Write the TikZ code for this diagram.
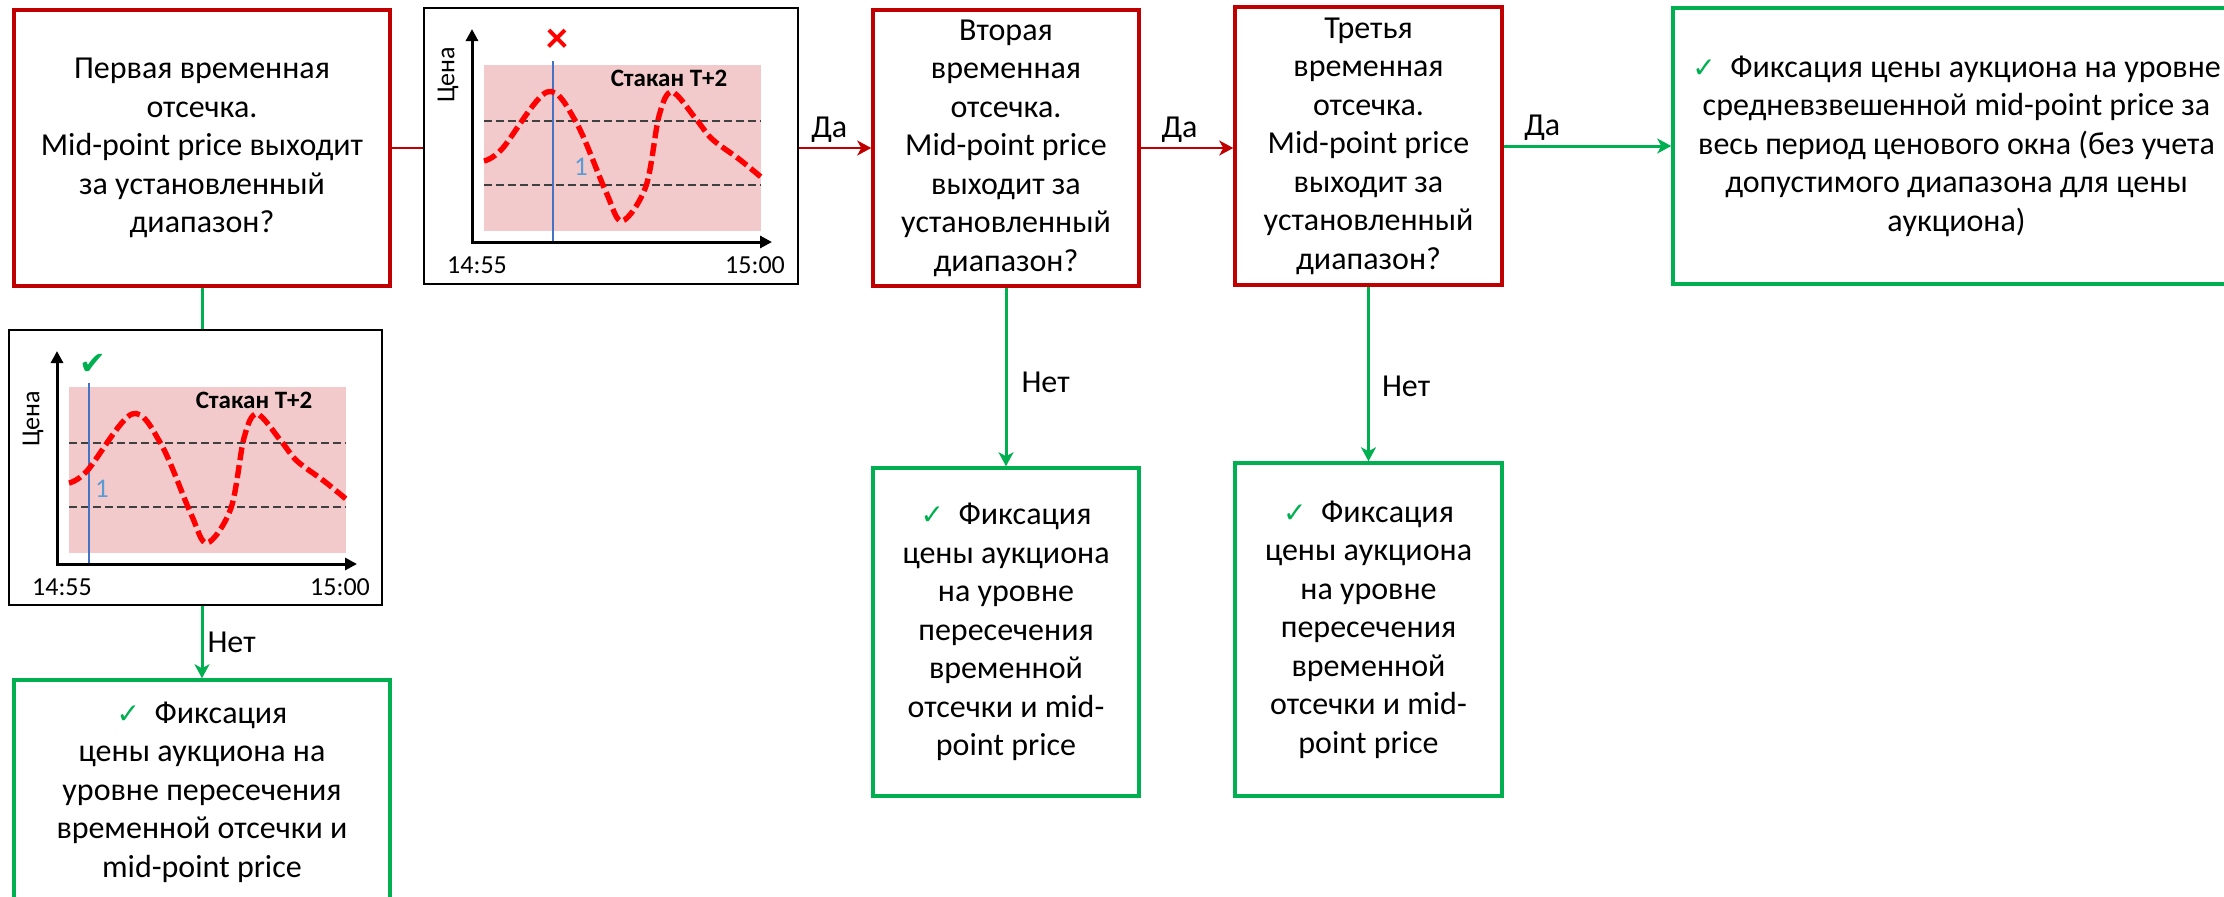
\documentclass[tikz,border=0pt]{standalone}
\usepackage{fontspec}
\setmainfont{Carlito}
\newfontfamily\dejavu{DejaVu Sans}
\usepackage{tikz}
\usetikzlibrary{calc}
\usetikzlibrary{arrows.meta}

\definecolor{krasny}{RGB}{192,0,0}
\definecolor{zeleny}{RGB}{0,176,80}
\definecolor{rozovy}{RGB}{242,202,203}
\definecolor{siniy}{RGB}{68,114,196}
\definecolor{goluboy}{RGB}{91,155,213}
\definecolor{seryy}{RGB}{64,64,64}
\definecolor{alyy}{RGB}{255,0,0}

\tikzset{
	tekst/.style={font=\fontsize{16pt}{19.25pt}\selectfont},
	vopros/.style={tekst,draw=krasny,line width=1.75pt,align=center,inner sep=0pt},
	itog/.style={tekst,draw=zeleny,line width=1.75pt,align=center,inner sep=0pt},
	ramka/.style={draw=black,line width=1pt,inner sep=0pt},
	metka/.style={tekst,inner sep=2pt},
	melko/.style={font=\fontsize{13pt}{14pt}\selectfont,inner sep=0pt},
	liniyaK/.style={draw=krasny,line width=1.2pt},
	liniyaZ/.style={draw=zeleny,line width=1.5pt},
	strelkaK/.style={liniyaK,-{Stealth[length=7pt,width=7.5pt,inset=2pt]}},
	strelkaZ/.style={liniyaZ,-{Stealth[length=7pt,width=7.5pt,inset=2pt]}},
	uroven/.style={draw=seryy,line width=1pt,dash pattern=on 4pt off 2pt},
	tsena/.style={draw=alyy,line width=2.7pt,dash pattern=on 6.5pt off 2.5pt},
	os/.style={draw=black,line width=1.5pt}
}

\newcommand{\galka}{{\dejavu\fontsize{14pt}{14pt}\selectfont\textcolor{zeleny}{✓}}}

% #1 - рамка, #2 - синяя линия, #3 - метка "1", #4 - значок, #5 - подпись "Цена"
\newcommand{\grafik}[5]{%
\begin{scope}[shift={(#1.north west)}]
	\fill[rozovy] (61,58) rectangle (338,224);
	\draw[uroven] (61,114) -- (338,114);
	\draw[uroven] (61,178) -- (338,178);
	\draw[siniy,line width=1pt] (#2,54) -- (#2,235);
	\draw[tsena] plot[smooth,tension=0.55] coordinates {(61,154) (79,142) (124,85) (153,115) (183,185) (199,214) (223,179) (236,109) (249,85) (273,112) (289,132) (316,152) (338,170)};
	\draw[os,{Triangle[length=6pt,width=6pt]}-{Triangle[length=6pt,width=6pt]}] (49,22) -- (49,235) -- (349,235);
	\node[melko,rotate=90] (#1-os) at (25,#5) {Цена};
	\node[melko] (#1-t0) at (54,258) {14:55};
	\node[melko] (#1-t1) at (332,258) {15:00};
	\node[melko,font=\bfseries\fontsize{12.5pt}{13pt}\selectfont] (#1-st) at (246,71) {Стакан T+2};
	\node[melko,text=goluboy,font=\fontsize{13.5pt}{14pt}\selectfont] (#1-n) at (#3,160) {1};
	\node[inner sep=0pt,anchor=south] (#1-z) at ({#2+4},46) {#4};
\end{scope}}

\begin{document}
\begin{tikzpicture}[x=0.5pt,y=-0.5pt]
\useasboundingbox (0,0) rectangle (2224,896);

%Вопросы
\node[vopros,minimum width=188pt,minimum height=138pt] (q1) at (202,148) {Первая временная\\отсечка.\\Mid-point price выходит\\за установленный\\диапазон?};
\node[vopros,minimum width=133pt,minimum height=138pt] (q2) at (1006,148) {Вторая\\временная\\отсечка.\\Mid-point price\\выходит за\\установленный\\диапазон?};
\node[vopros,minimum width=133.5pt,minimum height=139pt] (q3) at (1368.5,146) {Третья\\временная\\отсечка.\\Mid-point price\\выходит за\\установленный\\диапазон?};

%Итоги
\node[itog,minimum width=283.5pt,minimum height=138pt] (r4) at (1956.5,146) {\galka\ \ Фиксация цены аукциона на уровне\\средневзвешенной mid-point price за\\весь период ценового окна (без учета\\допустимого диапазона для цены\\аукциона)};
\node[itog,minimum width=188pt,minimum height=112pt] (r1) at (202,792) {\galka\ \ Фиксация\\цены аукциона на\\уровне пересечения\\временной отсечки и\\mid-point price};
\node[itog,minimum width=133pt,minimum height=164pt] (r2) at (1006,632) {\galka\ \ Фиксация\\цены аукциона\\на уровне\\пересечения\\временной\\отсечки и mid-\\point price};
\node[itog,minimum width=133.5pt,minimum height=166.5pt] (r3) at (1368.5,629.5) {\galka\ \ Фиксация\\цены аукциона\\на уровне\\пересечения\\временной\\отсечки и mid-\\point price};

%Графики
\node[ramka,minimum width=187pt,minimum height=138pt] (g1) at (611,146) {};
\node[ramka,minimum width=186.5pt,minimum height=137.5pt] (g2) at (195.5,467.5) {};
\grafik{g1}{130}{158}{\textcolor{alyy}{\bfseries\fontsize{22pt}{22pt}\selectfont ×}}{68}
\grafik{g2}{81}{94}{\textcolor{zeleny}{\dejavu\fontsize{16pt}{16pt}\selectfont ✔}}{90}

%Связи
\draw[liniyaK] (q1.east) -- (q1.east -| g1.west);
\draw[strelkaK] (g1.east |- q2.west) -- node[metka,above,pos=0.42] (da1) {Да} (q2.west);
\draw[strelkaK] (q2.east) -- node[metka,above,pos=0.42] (da2) {Да} (q2.east -| q3.west);
\draw[strelkaZ] (q3.east) -- node[metka,above,pos=0.23] (da3) {Да} (q3.east -| r4.west);
\draw[liniyaZ] (q1.south) -- (q1.south |- g2.north);
\draw[strelkaZ] (r1.north |- g2.south) -- node[metka,right,pos=0.5] (net1) {Нет} (r1.north);
\draw[strelkaZ] (q2.south) -- node[metka,right,pos=0.53,xshift=5pt] (net2) {Нет} (r2.north);
\draw[strelkaZ] (q3.south) -- node[metka,right,pos=0.57,xshift=4pt] (net3) {Нет} (r3.north);

\end{tikzpicture}
\end{document}
